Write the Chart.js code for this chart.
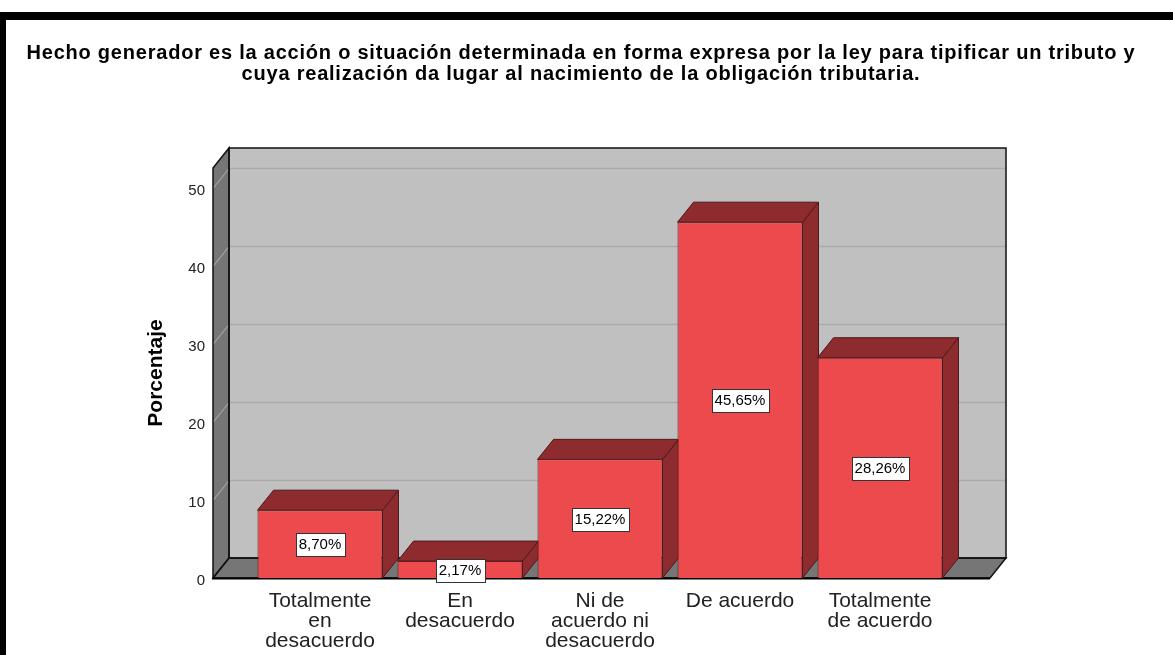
<!DOCTYPE html>
<html><head><meta charset="utf-8">
<script src="https://cdn.jsdelivr.net/npm/chart.js@4"></script>
<style>
html,body{margin:0;padding:0;background:#fff;width:1173px;height:655px;overflow:hidden}
#wrap{position:relative;width:1173px;height:655px}
canvas{position:absolute;left:0;top:0}
.bt{position:absolute;left:0;top:12px;width:1173px;height:8px;background:#000}
.bl{position:absolute;left:0;top:12px;width:6px;height:643px;background:#000}
</style></head><body>
<div id="wrap"><canvas id="c" width="1173" height="655"></canvas><div class="bt"></div><div class="bl"></div></div>
<script>
const categories = [
  ['Totalmente', 'en', 'desacuerdo'],
  ['En', 'desacuerdo'],
  ['Ni de', 'acuerdo ni', 'desacuerdo'],
  ['De acuerdo'],
  ['Totalmente', 'de acuerdo']
];
const percentages = [8.70, 2.17, 15.22, 45.65, 28.26];
const valueLabels = ['8,70%', '2,17%', '15,22%', '45,65%', '28,26%'];
const yTicks = [0, 10, 20, 30, 40, 50];
const titleLines = [
  'Hecho generador es la acción o situación determinada en forma expresa por la ley para tipificar un tributo y',
  'cuya realización da lugar al nacimiento de la obligación tributaria.'
];
const yTitle = 'Porcentaje';

const DX = 16, DY = 20;
const FONT = "'Liberation Sans', Arial, sans-serif";

function poly(ctx, pts, fill, stroke, lw) {
  ctx.beginPath();
  ctx.moveTo(pts[0][0], pts[0][1]);
  for (let i = 1; i < pts.length; i++) ctx.lineTo(pts[i][0], pts[i][1]);
  ctx.closePath();
  if (fill) { ctx.fillStyle = fill; ctx.fill(); }
  if (stroke) { ctx.strokeStyle = stroke; ctx.lineWidth = lw || 1; ctx.stroke(); }
}
function seg(ctx, x1, y1, x2, y2, color, lw) {
  ctx.beginPath(); ctx.moveTo(x1, y1); ctx.lineTo(x2, y2);
  ctx.strokeStyle = color; ctx.lineWidth = lw || 1; ctx.stroke();
}

const threeD = {
  id: 'threeD',
  beforeDatasetsDraw(chart) {
    const { ctx, chartArea: a, scales: { y } } = chart;
    const L = a.left - 37, R = a.right + 40;
    const y0 = y.getPixelForValue(0), yT = a.top;
    ctx.save();
    // back wall
    poly(ctx, [[L + DX, yT - DY], [R + DX, yT - DY], [R + DX, y0 - DY], [L + DX, y0 - DY]], '#c0c0c0');
    // left wall
    poly(ctx, [[L, yT], [L + DX, yT - DY], [L + DX, y0 - DY], [L, y0]], '#767676');
    // floor
    poly(ctx, [[L, y0], [L + DX, y0 - DY], [R + DX, y0 - DY], [R, y0]], '#767676');
    // gridlines
    yTicks.forEach(v => {
      if (v === 0) return;
      const py = Math.round(y.getPixelForValue(v)) + 0.5;
      seg(ctx, L + DX, py - DY, R + DX, py - DY, '#aaaaaa', 1.5);
      seg(ctx, L, py, L + DX, py - DY, '#a6a6a6', 1.2);
    });
    // outlines
    poly(ctx, [[L + DX, yT - DY], [R + DX, yT - DY], [R + DX, y0 - DY], [L + DX, y0 - DY]], null, '#111', 1.5);
    poly(ctx, [[L, yT], [L + DX, yT - DY], [L + DX, y0 - DY], [L, y0]], null, '#111', 1.5);
    poly(ctx, [[L, y0], [L + DX, y0 - DY], [R + DX, y0 - DY], [R, y0]], null, '#111', 1.5);
    seg(ctx, L, y0 + 0.5, R, y0 + 0.5, '#000', 2);
    // bar side & top faces
    const meta = chart.getDatasetMeta(0);
    meta.data.forEach(bar => {
      const p = bar.getProps(['x', 'y', 'base', 'width'], true);
      const l = p.x - p.width / 2, r = p.x + p.width / 2;
      poly(ctx, [[r, p.y], [r + DX, p.y - DY], [r + DX, p.base - DY], [r, p.base]], '#8e2b2e', '#4d1a1b', 1);
      poly(ctx, [[l, p.y], [l + DX, p.y - DY], [r + DX, p.y - DY], [r, p.y]], '#8e2b2e', '#4d1a1b', 1);
    });
    ctx.restore();
  },
  afterDatasetsDraw(chart) {
    const { ctx } = chart;
    const meta = chart.getDatasetMeta(0);
    ctx.save();
    ctx.font = '15px ' + FONT;
    ctx.textAlign = 'center';
    ctx.textBaseline = 'middle';
    meta.data.forEach((bar, i) => {
      const p = bar.getProps(['x', 'y', 'base'], true);
      const cy = Math.round((p.y + p.base) / 2);
      const txt = valueLabels[i];
      const w = Math.round(ctx.measureText(txt).width) + 6;
      const h = 23;
      const bx = Math.round(p.x - w / 2) + 0.5, by = Math.round(cy - h / 2) + 0.5;
      ctx.fillStyle = '#fff';
      ctx.fillRect(bx, by, w, h);
      ctx.strokeStyle = '#333';
      ctx.lineWidth = 1;
      ctx.strokeRect(bx, by, w, h);
      ctx.fillStyle = '#000';
      ctx.fillText(txt, p.x, cy + 1);
    });
    ctx.restore();
  },
  afterDraw(chart) {
    const { ctx } = chart;
    ctx.save();
    ctx.font = 'bold 20px ' + FONT;
    if ('letterSpacing' in ctx) ctx.letterSpacing = '0.78px';
    ctx.fillStyle = '#000';
    ctx.textAlign = 'center';
    ctx.textBaseline = 'alphabetic';
    titleLines.forEach((t, i) => ctx.fillText(t, 581, 59 + i * 21));
    ctx.restore();
  }
};

new Chart(document.getElementById('c'), {
  type: 'bar',
  data: {
    labels: categories,
    datasets: [{
      data: percentages,
      backgroundColor: '#ec4a4c',
      borderColor: '#5a1e1f',
      borderWidth: 1,
      barPercentage: 125 / 140,
      categoryPercentage: 1
    }]
  },
  options: {
    responsive: false,
    animation: false,
    devicePixelRatio: 1,
    layout: { padding: { left: 0, right: 13, top: 168, bottom: 0 } },
    plugins: {
      legend: { display: false },
      tooltip: { enabled: false },
      title: { display: false }
    },
    scales: {
      x: {
        grid: { display: false, drawTicks: false },
        border: { display: false },
        ticks: { color: '#222', font: { family: FONT, size: 21, lineHeight: 20 / 21 }, padding: 13, maxRotation: 0, autoSkip: false },
        afterFit(s) { s.height = 77; }
      },
      y: {
        min: 0, max: 52.6,
        grid: { display: false, drawTicks: false },
        border: { display: false },
        ticks: { color: '#222', font: { family: FONT, size: 15 }, padding: 45, labelOffset: 3 },
        afterBuildTicks(s) { s.ticks = yTicks.map(v => ({ value: v })); },
        title: { display: true, text: yTitle, color: '#000', font: { family: FONT, size: 21, weight: 'bold', lineHeight: 1.2 }, padding: { top: 144, bottom: 0 } },
        afterFit(s) { s.width = 250; }
      },
      y2: {
        position: 'right',
        display: true,
        grid: { display: false, drawTicks: false },
        border: { display: false },
        ticks: { display: false },
        afterFit(s) { s.width = 210; }
      }
    }
  },
  plugins: [threeD]
});
</script>
</body></html>
